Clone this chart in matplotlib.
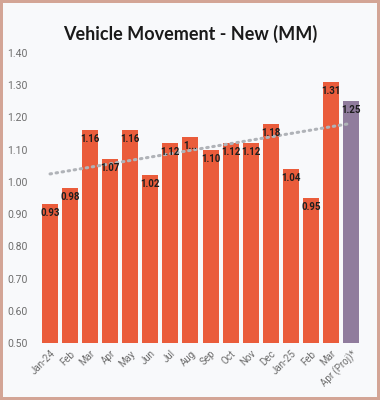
import numpy as np
import matplotlib.pyplot as plt

months = ["Jan-24", "Feb", "Mar", "Apr", "May", "Jun", "Jul", "Aug", "Sep",
          "Oct", "Nov", "Dec", "Jan-25", "Feb", "Mar", "Apr (Proj)*"]
values = [0.93, 0.98, 1.16, 1.07, 1.16, 1.02, 1.12, 1.14, 1.10,
          1.12, 1.12, 1.18, 1.04, 0.95, 1.31, 1.25]
labels = ["0.93", "0.98", "1.16", "1.07", "1.16", "1.02", "1.12", "1...", "1.10",
          "1.12", "1.12", "1.18", "1.04", "0.95", "1.31", "1.25"]

plt.rcParams['font.family'] = ['Roboto', 'DejaVu Sans']

fig = plt.figure(figsize=(3.8, 4.0), dpi=100)
fig.patch.set_facecolor("#f8f9fb")
fig.patch.set_edgecolor("#d3a596")
fig.patch.set_linewidth(3)
ax = fig.add_axes([39 / 380, 57 / 400, 323 / 380, 290 / 400])
ax.set_facecolor("#f8f9fb")

x = np.arange(len(values))
colors = ["#ea5c3b"] * (len(values) - 1) + ["#907c9d"]
ax.bar(x, values, width=0.8, color=colors, bottom=0)

for i, (v, t) in enumerate(zip(values, labels)):
    ax.text(i, v - 0.012, t, ha="center", va="top", fontsize=7,
            fontweight="bold", color="#1e1e1e")

# linear trendline
k, b = np.polyfit(x, values, 1)
ax.plot(x, k * x + b, color="#b0b3b8", lw=2.2, ls=(0, (0.5, 1.5)),
        dash_capstyle="round")

ax.set_ylim(0.5, 1.4)
ax.set_xlim(-0.55, len(values) - 0.45)
ax.set_yticks(np.arange(0.5, 1.41, 0.1))
ax.set_yticklabels([f"{t:.2f}" for t in np.arange(0.5, 1.41, 0.1)])
ax.set_xticks(x)
ax.set_xticklabels(months, rotation=45, ha="right", rotation_mode="anchor")
ax.tick_params(axis="both", length=0, labelsize=7.5, colors="#6e6e6e")
ax.tick_params(axis="x", pad=4, labelsize=7)
ax.tick_params(axis="y", pad=8)
for s in ax.spines.values():
    s.set_visible(False)

fig.text(0.5, 0.915, "Vehicle Movement - New (MM)", ha="center", va="center",
         fontsize=13, fontweight="bold", color="#1a1a1a",
         family=["Lato", "DejaVu Sans"])

fig.savefig("out.png", dpi=100, facecolor=fig.get_facecolor(),
            edgecolor=fig.get_edgecolor())
